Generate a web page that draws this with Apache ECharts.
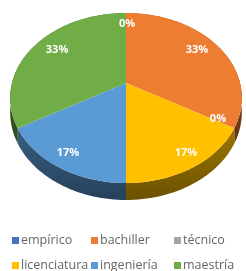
<!DOCTYPE html>
<html>
<head>
<meta charset="utf-8">
<script src="https://cdn.jsdelivr.net/npm/echarts@6/dist/echarts.min.js"></script>
<style>
  html, body { margin: 0; padding: 0; background: #fff; }
  #main { width: 246px; height: 271px; }
</style>
</head>
<body>
<div id="main"></div>
<script>
// categories in legend order (pie starts at 12 o'clock, clockwise)
const categories = ['empírico', 'bachiller', 'técnico', 'licenciatura', 'ingeniería', 'maestría'];
const counts = [0, 2, 0, 1, 1, 2];
const colors = ['#4472C4', '#ED7D31', '#A5A5A5', '#FFC000', '#5B9BD5', '#70AD47'];

// tilted-disc projection (perspective squeeze toward the back)
const CX = 126, CY = 83, RX = 114, RY = 82.35, PERSP = 0.1765, DEPTH = 14;

function proj(phi, f, drop) {
  const X = f * Math.sin(phi), Z = f * Math.cos(phi);
  const w = 1 + PERSP * Z;
  return [CX + RX * X / w, CY - RY * Z / w + (drop ? drop / w : 0)];
}

// where the percent labels sit inside each slice
function labelPos(phi) {
  const X = Math.sin(phi), Z = Math.cos(phi);
  return [CX + 1 + 91.3 * X / (1 + 0.261 * Z), 81.2 - 68.6 * Z / (1 + 0.2 * Z)];
}

function arc(a1, a2, f, drop) {
  const pts = [];
  const n = Math.max(2, Math.ceil(Math.abs(a2 - a1) / 0.03));
  for (let k = 0; k <= n; k++) pts.push(proj(a1 + (a2 - a1) * k / n, f, drop));
  return pts;
}

function shade(hex, k) {
  const n = parseInt(hex.slice(1), 16);
  const r = Math.round(((n >> 16) & 255) * k), g = Math.round(((n >> 8) & 255) * k), b = Math.round((n & 255) * k);
  return 'rgb(' + r + ',' + g + ',' + b + ')';
}

const total = counts.reduce((a, b) => a + b, 0);
const starts = [];
counts.reduce((acc, v, i) => { starts[i] = acc; return acc + v; }, 0);

const chart = echarts.init(document.getElementById('main'));

const series = categories.map((name, i) => ({
  type: 'custom',
  name: name,
  coordinateSystem: 'none',
  color: colors[i],
  silent: true,
  data: [counts[i]],
  renderItem: function (params, api) {
    const v = api.value(0);
    const a1 = starts[i] / total * Math.PI * 2;
    const a2 = (starts[i] + v) / total * Math.PI * 2;
    const lp = labelPos((a1 + a2) / 2);
    const children = [];
    if (v > 0) {
      const top = arc(a1, a2, 1, 0);
      const side = top.concat(arc(a2, a1, 1, DEPTH));
      children.push({
        type: 'polygon', z2: 1,
        shape: { points: side },
        style: {
          fill: new echarts.graphic.LinearGradient(0, 0, 0, 1, [
            { offset: 0, color: shade(colors[i], 0.62) },
            { offset: 1, color: shade(colors[i], 0.42) }
          ])
        }
      });
      children.push({
        type: 'polygon', z2: 5,
        shape: { points: [proj(0, 0, 0)].concat(top) },
        style: { fill: colors[i] }
      });
    }
    children.push({
      type: 'text', z2: 10,
      x: lp[0], y: lp[1],
      style: {
        text: Math.round(v / total * 100) + '%',
        fill: '#ffffff',
        font: 'bold 11px "Open Sans"',
        align: 'center',
        verticalAlign: 'middle'
      }
    });
    return { type: 'group', children: children };
  }
}));

// one vertical legend per column so the columns line up
const legendLeft = [12, 91, 174];
const legend = [0, 1, 2].map(c => ({
  orient: 'vertical',
  left: legendLeft[c],
  top: 234,
  height: 60,
  padding: 0,
  itemGap: 12,
  itemWidth: 7,
  itemHeight: 7,
  icon: 'rect',
  selectedMode: false,
  data: [categories[c], categories[c + 3]],
  textStyle: {
    color: '#666666',
    fontSize: 12.5,
    lineHeight: 13,
    fontFamily: 'Open Sans',
    padding: [0, 0, 0, -3]
  }
}));

chart.setOption({
  animation: false,
  legend: legend,
  series: series
});
</script>
</body>
</html>
